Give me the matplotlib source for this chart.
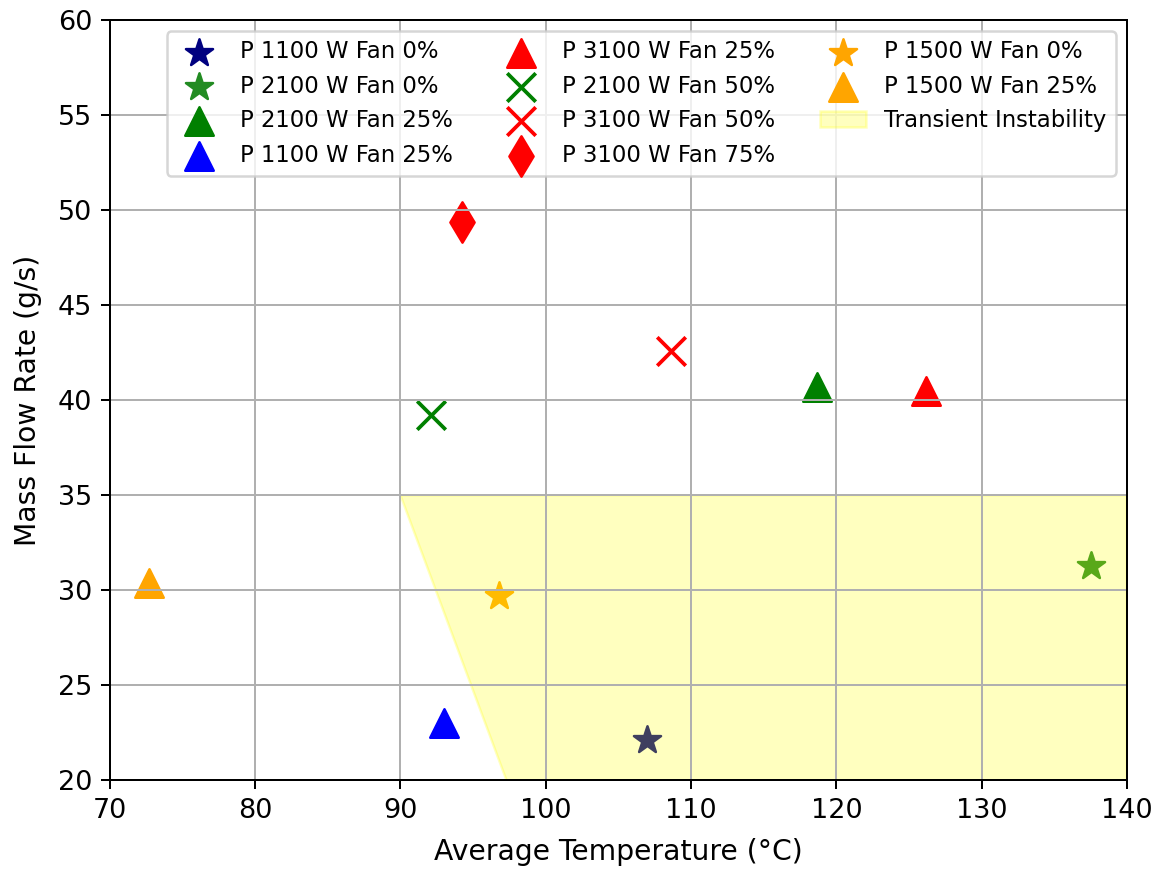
import matplotlib
matplotlib.use("Agg")
import matplotlib.pyplot as plt

# Measured operating points: average temperature (°C) vs mass flow rate (g/s)
labels = [
    "P 1100 W Fan 0%",
    "P 2100 W Fan 0%",
    "P 2100 W Fan 25%",
    "P 1100 W Fan 25%",
    "P 3100 W Fan 25%",
    "P 2100 W Fan 50%",
    "P 3100 W Fan 50%",
    "P 3100 W Fan 75%",
    "P 1500 W Fan 0%",
    "P 1500 W Fan 25%",
]
temperature = [107.0, 137.5, 118.7, 93.0, 126.2, 92.1, 108.6, 94.2, 96.8, 72.7]
mass_flow = [22.1, 31.3, 40.7, 23.0, 40.5, 39.2, 42.6, 49.4, 29.7, 30.4]
colors = ["navy", "forestgreen", "green", "blue", "red", "green", "red", "red",
          "orange", "orange"]
markers = ["*", "*", "^", "^", "^", "x", "x", "d", "*", "^"]

# Boundary of the transient-instability region
region_x = [90, 97.3, 140, 140]
region_y = [35, 20, 20, 35]

fig = plt.figure(figsize=(1157 / 180, 870 / 180), dpi=180)
ax = fig.add_axes([0.095, 0.103, 0.879, 0.874])

for t, m, c, mk, lab in zip(temperature, mass_flow, colors, markers, labels):
    ax.scatter(t, m, color=c, marker=mk, s=130, label=lab)

ax.fill(region_x, region_y, color="yellow", alpha=0.25, label="Transient Instability")

ax.set_xlim(70, 140)
ax.set_ylim(20, 60)
ax.set_xlabel("Average Temperature (°C)", fontsize=11.3, labelpad=5.5)
ax.set_ylabel("Mass Flow Rate (g/s)", fontsize=11.3, labelpad=6.5)
ax.tick_params(labelsize=10.8)
ax.grid(True)
ax.legend(loc="upper right", ncol=3, fontsize=9.1)

fig.savefig("out.png", dpi=180)
